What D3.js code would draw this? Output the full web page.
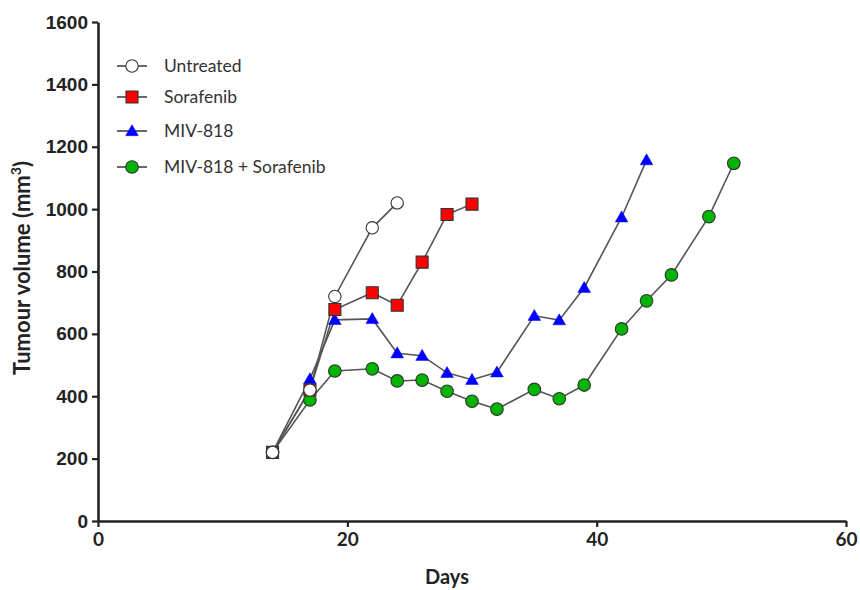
<!DOCTYPE html>
<html><head><meta charset="utf-8">
<script src="https://cdn.jsdelivr.net/npm/d3@7"></script>
<style>body{margin:0;background:#fff}</style>
</head><body>
<svg id="chart" width="860" height="590"></svg>
<script>
const seriesNames = ["Untreated", "Sorafenib", "MIV-818", "MIV-818 + Sorafenib"];
const untreatedDays = [14, 17, 19, 22, 24];
const untreatedVals = [220, 420, 720, 940, 1020];
const sorafenibDays = [14, 17, 19, 22, 24, 26, 28, 30];
const sorafenibVals = [220, 420, 678, 732, 692, 830, 983, 1016];
const mivDays = [14, 17, 19, 22, 24, 26, 28, 30, 32, 35, 37, 39, 42, 44];
const mivVals = [220, 455, 645, 648, 538, 530, 475, 453, 477, 658, 644, 748, 974, 1157];
const comboDays = [14, 17, 19, 22, 24, 26, 28, 30, 32, 35, 37, 39, 42, 44, 46, 49, 51];
const comboVals = [220, 388, 481, 488, 449, 452, 416, 384, 359, 422, 392, 436, 616, 706, 789, 976, 1147];
const xTicks = [0, 20, 40, 60];
const yTicks = [0, 200, 400, 600, 800, 1000, 1200, 1400, 1600];
const fills = ["#ffffff", "#ff0000", "#0000ff", "#00b400"];
const shapes = [d3.symbolCircle, d3.symbolSquare, d3.symbolTriangle, d3.symbolCircle];

const series = [
  {name: seriesNames[0], days: untreatedDays, vals: untreatedVals, fill: fills[0], shape: shapes[0]},
  {name: seriesNames[1], days: sorafenibDays, vals: sorafenibVals, fill: fills[1], shape: shapes[1]},
  {name: seriesNames[2], days: mivDays, vals: mivVals, fill: fills[2], shape: shapes[2]},
  {name: seriesNames[3], days: comboDays, vals: comboVals, fill: fills[3], shape: shapes[3]}
];

const svg = d3.select("#chart");
const x = d3.scaleLinear().domain([0, 60]).range([98, 846]);
const y = d3.scaleLinear().domain([0, 1600]).range([521, 22]);

const symSize = {0: 120, 1: 144, 2: 70, 3: 125};
function sym(i){ return d3.symbol().type(series[i].shape).size(symSize[i])(); }

const order = [3, 2, 1, 0];
order.forEach(i => {
  const s = series[i];
  const pts = s.days.map((d, k) => [d, s.vals[k]]);
  svg.append("path")
    .attr("d", d3.line().x(p => x(p[0])).y(p => y(p[1]))(pts))
    .attr("fill", "none").attr("stroke", "#555").attr("stroke-width", 1.6);
});
order.forEach(i => {
  const s = series[i];
  const pts = s.days.map((d, k) => [d, s.vals[k]]);
  svg.selectAll(null).data(pts).enter().append("path")
    .attr("d", sym(i))
    .attr("transform", p => `translate(${x(p[0])},${y(p[1]) + (i === 2 ? 1 : 0)})`)
    .attr("fill", s.fill)
    .attr("stroke", i === 2 ? "#0000ff" : "#333")
    .attr("stroke-width", i === 2 ? 0.5 : 1.1);
});

const yAxis = svg.append("g").attr("transform", "translate(98,0)")
  .call(d3.axisLeft(y).tickValues(yTicks).tickFormat(d3.format("d")).tickSize(6).tickSizeOuter(0).tickPadding(4));
yAxis.select(".domain").attr("stroke", "#222").attr("stroke-width", 2.6);
yAxis.selectAll(".tick line").attr("stroke", "#222").attr("stroke-width", 2.2);
yAxis.selectAll(".tick text").attr("font-family", "Liberation Sans, Arial, sans-serif")
  .attr("font-weight", "bold").attr("font-size", 19).attr("fill", "#222");

const xAxis = svg.append("g").attr("transform", "translate(0,521)")
  .call(d3.axisBottom(x).tickValues(xTicks).tickFormat(d3.format("d")).tickSize(6).tickSizeOuter(0).tickPadding(6));
xAxis.select(".domain").attr("stroke", "#222").attr("stroke-width", 2.6);
xAxis.selectAll(".tick line").attr("stroke", "#222").attr("stroke-width", 2.2);
xAxis.selectAll(".tick text").attr("font-family", "Lato, sans-serif")
  .attr("font-weight", "bold").attr("font-size", 19).attr("fill", "#222");

svg.append("text").attr("x", 447).attr("y", 584).attr("text-anchor", "middle")
  .attr("font-family", "Lato, sans-serif").attr("font-weight", "bold").attr("font-size", 20)
  .attr("fill", "#222").text("Days");

const yl = svg.append("text").attr("transform", "translate(30,268) rotate(-90)")
  .attr("text-anchor", "middle").attr("font-family", "Lato, sans-serif")
  .attr("font-weight", "bold").attr("font-size", 22).attr("fill", "#222");
yl.append("tspan").text("Tumour volume (mm");
yl.append("tspan").attr("dy", -9).attr("font-size", 14).text("3");
yl.append("tspan").attr("dy", 9).text(")");

const legY = [66, 97, 131, 167];
seriesNames.forEach((n, i) => {
  const g = svg.append("g").attr("transform", `translate(0,${legY[i]})`);
  g.append("line").attr("x1", 117).attr("x2", 147).attr("y1", 0).attr("y2", 0)
    .attr("stroke", "#444").attr("stroke-width", 1.6);
  g.append("path").attr("d", sym(i)).attr("transform", `translate(132,${i === 2 ? 1 : 0})`)
    .attr("fill", fills[i]).attr("stroke", i === 2 ? "#0000ff" : "#333")
    .attr("stroke-width", i === 2 ? 0.5 : 1.1);
  g.append("text").attr("x", 164).attr("y", 0).attr("dy", "0.35em")
    .attr("font-family", "Lato, sans-serif").attr("font-size", 17.5).attr("fill", "#333").text(n);
});
</script>
</body></html>
